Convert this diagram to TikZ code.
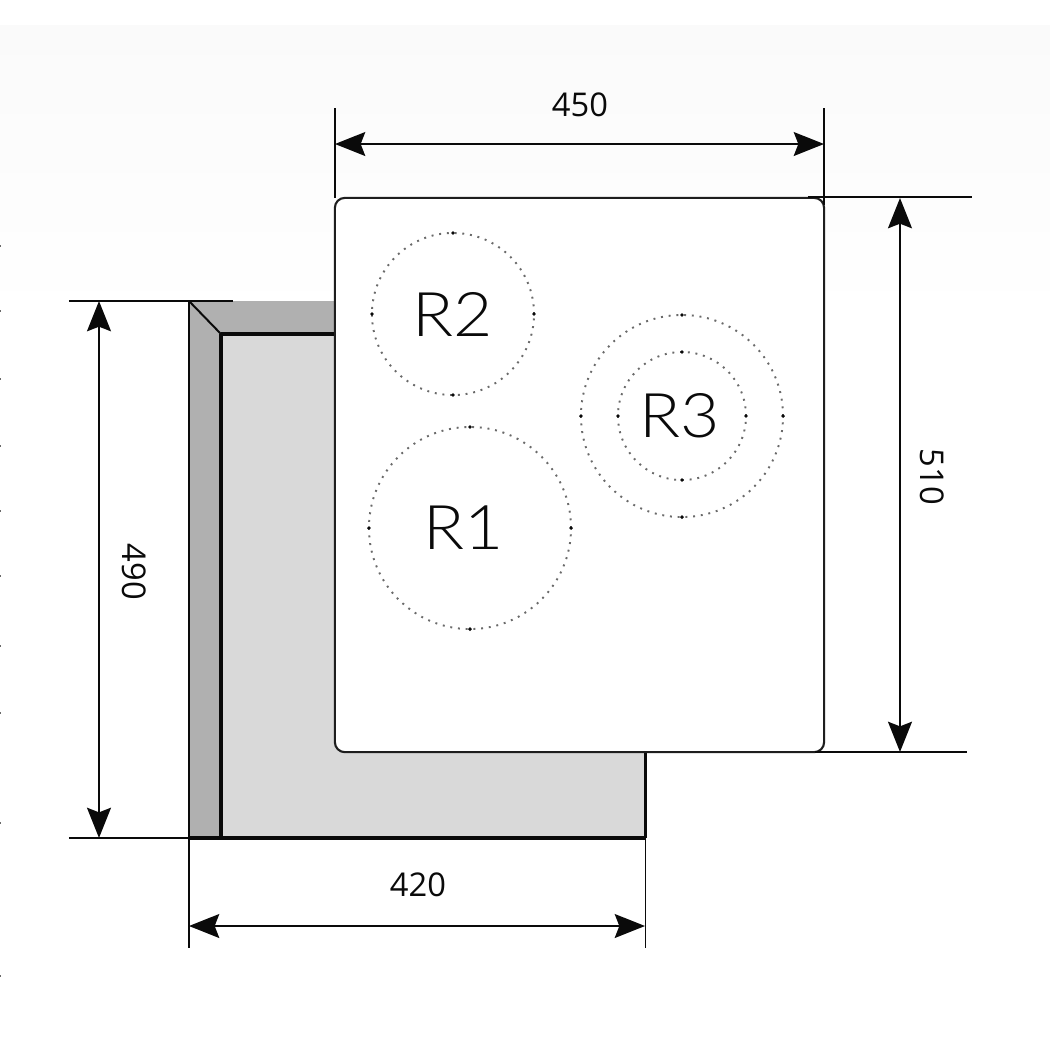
\documentclass[tikz,border=0pt]{standalone}
\usepackage{fontspec}
\setmainfont{Open Sans}
\newfontfamily\zonefont[FakeStretch=1.1]{Lato Light}
\usetikzlibrary{arrows.meta}
\definecolor{bgtop}{HTML}{FAFAFA}
\definecolor{rim}{HTML}{B0B0B0}
\definecolor{base}{HTML}{D9D9D9}
\definecolor{ink}{HTML}{0A0A0A}
\definecolor{dotgrey}{HTML}{6A6A6A}
\tikzset{
  thinline/.style={draw=ink,line width=0.56pt},
  thickline/.style={draw=ink,line width=0.95pt},
  dimline/.style={thinline,{Stealth[length=8.6pt,width=6.8pt,inset=1.3pt]}-{Stealth[length=8.6pt,width=6.8pt,inset=1.3pt]}},
  dimtext/.style={font=\fontsize{9.3}{11}\selectfont,text=ink,inner sep=0pt},
  zone/.style={circle,inner sep=0pt,outer sep=0pt,draw=dotgrey,line width=0.55pt,dash pattern=on 0.55pt off 1.65pt,font=\zonefont\fontsize{17.5}{20}\selectfont,text=ink},
  quad/.style={circle,fill=ink,inner sep=0pt,minimum size=1.1pt},
}
\begin{document}
\begin{tikzpicture}[x=0.01cm,y=-0.01cm]
\useasboundingbox (0,0) rectangle (1050,1050);
\fill[white] (0,0) rectangle (1050,1050);
\shade[top color=bgtop,bottom color=white] (0,25) rectangle (1050,320);
% left edge specks
\foreach \yy in {245,310,378,445,510,575,645,712,822,975}
  \fill[dotgrey] (0,\yy) rectangle (1.5,\yy+1.5);
% cabinet
\fill[base] (221,334) rectangle (645,838);
\fill[rim] (189,301) -- (335,301) -- (335,334) -- (221,334) -- (221,838) -- (189,838) -- cycle;
\draw[thickline] (221,334) -- (335,334);
\draw[thickline] (221,334) -- (221,838);
\draw[thickline] (189,838) -- (646.5,838);
\draw[thickline] (645.5,752) -- (645.5,838);
\draw[thinline] (189,301) -- (221,334);
% hob panel
\node[draw=ink!92,fill=white,line width=0.6pt,rounded corners=0.1cm,outer sep=0pt,minimum width=4.89cm,minimum height=5.54cm,inner sep=0pt] (panel) at (579.5,475) {};
% cooking zones
\node[zone,minimum size=1.62cm] (r2) at (453,314) {R2};
\node[zone,minimum size=2.02cm] (r1) at (470,528) {\kern-0.12cm R1};
\node[zone,minimum size=2.02cm] (r3o) at (682,416) {};
\node[zone,minimum size=1.28cm] (r3) at (682,416) {\kern-0.04cm R3};
\foreach \z in {r1,r2,r3,r3o}
  \foreach \a in {north,south,east,west}
    \node[quad] at (\z.\a) {};
% extension lines
\coordinate (a1) at (335,108); \coordinate (a2) at (335,198);
\coordinate (b1) at (824,108); \coordinate (b2) at (824,205);
\coordinate (c1) at (808,197); \coordinate (c2) at (972,197);
\coordinate (d1) at (815,752); \coordinate (d2) at (967,752);
\coordinate (e1) at (69,301);  \coordinate (e2) at (233,301);
\coordinate (f1) at (69,838);  \coordinate (f2) at (189,838);
\coordinate (g1) at (189,301); \coordinate (g2) at (189,948);
\coordinate (h1) at (645.5,838); \coordinate (h2) at (645.5,948);
\draw[thinline] (a1) -- (a2);
\draw[thinline] (b1) -- (b2);
\draw[thinline] (c1) -- (c2);
\draw[thinline] (d1) -- (d2);
\draw[thinline] (e1) -- (e2);
\draw[thinline] (f1) -- (f2);
\draw[thinline] (g1) -- (g2);
\draw[thinline] (h1) -- (h2);
% dimensions
\coordinate (w1) at (335,144); \coordinate (w2) at (824,144);
\coordinate (v1) at (900,198); \coordinate (v2) at (900,752);
\coordinate (u1) at (99,301);  \coordinate (u2) at (99,838);
\coordinate (t1) at (189,926); \coordinate (t2) at (645,926);
\draw[dimline] (w1) -- (w2);
\draw[dimline] (v1) -- (v2);
\draw[dimline] (u1) -- (u2);
\draw[dimline] (t1) -- (t2);
\node[dimtext] (l450) at (580,105) {450};
\node[dimtext] (l420) at (418,885) {420};
\node[dimtext,rotate=-90] (l490) at (134,572) {490};
\node[dimtext,rotate=-90] (l510) at (932,477) {510};
\end{tikzpicture}
\end{document}
